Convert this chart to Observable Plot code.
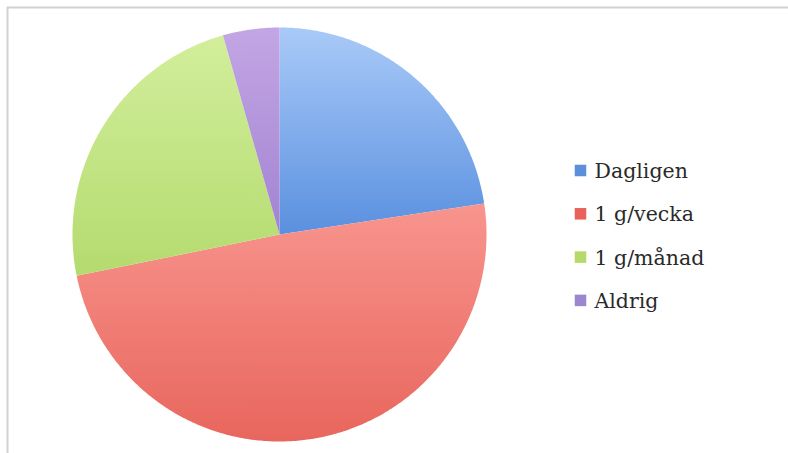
<!DOCTYPE html>
<html>
<head>
<meta charset="utf-8">
<script src="https://cdn.jsdelivr.net/npm/d3@7"></script>
<script src="https://cdn.jsdelivr.net/npm/@observablehq/plot@0.6"></script>
<style>
  html, body { margin: 0; padding: 0; background: #fff; }
  #chart { width: 788px; height: 453px; }
</style>
</head>
<body>
<div id="chart"></div>
<script>
// Data (share, %)
const categories = ["Dagligen", "1 g/vecka", "1 g/månad", "Aldrig"];
const values = [22.6, 49.2, 23.8, 4.4];
const legendColors = ["#5b8fd9", "#e8615a", "#b5d96a", "#9c86cf"];
const gradTop = ["#a9caf8", "#f8958e", "#d2ee9c", "#c3a6e4"];
const gradBottom = ["#5a90df", "#e8665d", "#b4db6e", "#a283d2"];

const W = 788, H = 453;
const cx = 279, cy = 234, R = 207;

const arcs = d3.pie().sort(null).value(d => d.value)(
  categories.map((name, i) => ({ name, value: values[i], i }))
);

const slicePoints = arcs.map(a => {
  const pts = [{ x: cx, y: cy }];
  const n = Math.max(8, Math.ceil((a.endAngle - a.startAngle) / 0.01));
  for (let k = 0; k <= n; k++) {
    const t = a.startAngle + (a.endAngle - a.startAngle) * k / n;
    pts.push({ x: cx + R * Math.sin(t), y: cy - R * Math.cos(t) });
  }
  pts.push({ x: cx, y: cy });
  return pts;
});

const legend = categories.map((name, i) => ({ name, i, color: legendColors[i] }));

const plot = Plot.plot({
  width: W,
  height: H,
  margin: 0,
  x: { domain: [0, W], range: [0, W], axis: null },
  y: { domain: [0, H], range: [0, H], axis: null },
  style: { background: "#fff", overflow: "visible" },
  marks: [
    Plot.ruleY([7], { x1: 7, x2: W, stroke: "#d2d2d2", strokeWidth: 2 }),
    Plot.ruleX([7], { y1: 7, y2: H, stroke: "#d2d2d2", strokeWidth: 2 }),
    ...slicePoints.map((pts, i) =>
      Plot.line(pts, { x: "x", y: "y", fill: `url(#grad${i})`, stroke: "none", curve: "linear" })
    ),
    Plot.dot(legend, {
      x: 580, y: d => 170 + 43.3 * d.i, symbol: "square", r: 6.5,
      fill: "color", stroke: "none"
    }),
    Plot.text(legend, {
      x: 594, y: d => 170 + 43.3 * d.i, text: "name", textAnchor: "start",
      fontSize: 20.5, fontFamily: "DejaVu Serif", fill: "#2a2a2a", dy: 1
    })
  ]
});

// gradient definitions for the glossy slice look
const ns = "http://www.w3.org/2000/svg";
const defs = document.createElementNS(ns, "defs");
gradTop.forEach((top, i) => {
  const g = document.createElementNS(ns, "linearGradient");
  g.setAttribute("id", `grad${i}`);
  g.setAttribute("x1", "0"); g.setAttribute("y1", "0");
  g.setAttribute("x2", "0"); g.setAttribute("y2", "1");
  [[0, top], [1, gradBottom[i]]].forEach(([o, c]) => {
    const s = document.createElementNS(ns, "stop");
    s.setAttribute("offset", o);
    s.setAttribute("stop-color", c);
    g.appendChild(s);
  });
  defs.appendChild(g);
});
plot.insertBefore(defs, plot.firstChild);

document.getElementById("chart").appendChild(plot);
</script>
</body>
</html>
